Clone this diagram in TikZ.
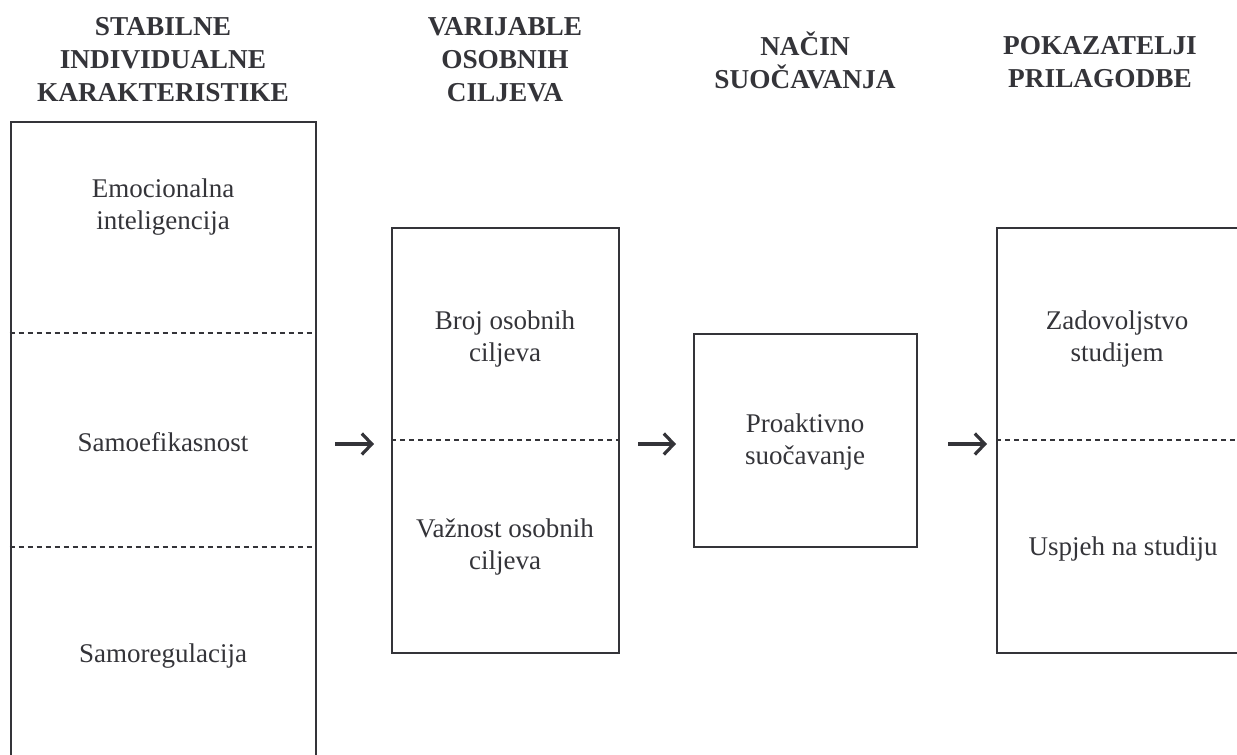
\documentclass[tikz,border=0pt]{standalone}
\usepackage{fontspec}
\setmainfont{Liberation Serif}
\usetikzlibrary{arrows.meta}
\definecolor{ink}{RGB}{52,52,57}
\begin{document}
\begin{tikzpicture}[x=1pt,y=-1pt,
  box/.style={draw=ink,line width=2pt,rectangle,inner sep=0pt},
  sep/.style={draw=ink,line width=1.5pt,dash pattern=on 5pt off 4pt},
  head/.style={text=ink,align=center,font=\fontsize{27.3}{33}\selectfont\bfseries,inner sep=0pt},
  lbl/.style={text=ink,align=center,font=\fontsize{27}{32}\selectfont,inner sep=0pt},
  flow/.style={draw=ink,line width=3.2pt,-{Straight Barb[length=10pt,width=21pt,line width=3.2pt]}}]
\useasboundingbox (0,0) rectangle (1237,755);
\clip (0,0) rectangle (1237,755);
% headings
\node[head] (h1) at (163,60) {STABILNE\\INDIVIDUALNE\\KARAKTERISTIKE};
\node[head] (h2) at (505,60) {VARIJABLE\\OSOBNIH\\CILJEVA};
\node[head] (h3) at (805,60) {NAČIN\\SUOČAVANJA};
\node[head] (h4) at (1100,62) {POKAZATELJI\\PRILAGODBE};
% boxes
\node[box,minimum width=305pt,minimum height=660pt] (b1) at (163,452) {};
\node[box,minimum width=227pt,minimum height=425pt] (b2) at (505.5,440.5) {};
\node[box,minimum width=223pt,minimum height=213pt] (b3) at (805.5,440.5) {};
\node[box,minimum width=248pt,minimum height=425pt] (b4) at (1121,440.5) {};
% separators
\draw[sep] (b1.west |- 0,333) -- (b1.east |- 0,333);
\draw[sep] (b1.west |- 0,547) -- (b1.east |- 0,547);
\draw[sep] (b2.west |- 0,440) -- (b2.east |- 0,440);
\draw[sep] (b4.west |- 0,440) -- (b4.east |- 0,440);
% labels
\node[lbl] (l1) at (163,207) {Emocionalna\\inteligencija};
\node[lbl] (l2) at (163,442) {Samoefikasnost};
\node[lbl] (l3) at (163,656) {Samoregulacija};
\node[lbl] (l4) at (505,339) {Broj osobnih\\ciljeva};
\node[lbl] (l5) at (505,547) {Važnost osobnih\\ciljeva};
\node[lbl] (l6) at (805,442) {Proaktivno\\suočavanje};
\node[lbl] (l7) at (1117,339) {Zadovoljstvo\\studijem};
\node[lbl] (l8) at (1123,549) {Uspjeh na studiju};
% arrows
\coordinate (a1s) at (335,444); \coordinate (a1e) at (374,444);
\coordinate (a2s) at (638,444); \coordinate (a2e) at (676,444);
\coordinate (a3s) at (948,444); \coordinate (a3e) at (987,444);
\draw[flow] (a1s) -- (a1e);
\draw[flow] (a2s) -- (a2e);
\draw[flow] (a3s) -- (a3e);
\end{tikzpicture}
\end{document}
